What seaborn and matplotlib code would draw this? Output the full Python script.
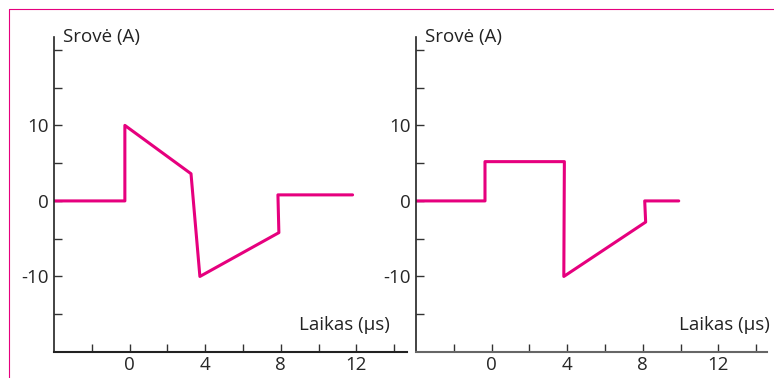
import pandas as pd
import matplotlib.pyplot as plt
import seaborn as sns
from matplotlib.lines import Line2D

# left panel: time (us) and current (A)
left_t = [-4, -0.25, -0.25, 3.25, 3.72, 7.9, 7.85, 11.8]
left_i = [0, 0, 10, 3.6, -10, -4.2, 0.8, 0.8]

# right panel
right_t = [-4, -0.35, -0.35, 3.85, 3.82, 8.15, 8.1, 9.9]
right_i = [0, 0, 5.2, 5.2, -10, -2.8, 0, 0]

x_major = [0, 4, 8, 12]
x_minor = [-2, 2, 6, 10, 14]
y_major = [-10, 0, 10]
y_minor = [-15, -5, 5, 15, 20]

line_color = '#E6007E'

sns.set_style("ticks")
plt.rcParams['font.family'] = ['Open Sans', 'DejaVu Sans']

fig = plt.figure(figsize=(7.74, 3.78), dpi=100)
W, H = 774, 378

def make_panel(left_px, right_px, t, i, xmax, axis_color):
    ax = fig.add_axes([left_px / W, (H - 352) / H, (right_px - left_px) / W, (352 - 37) / H])
    df = pd.DataFrame({'t': t, 'i': i})
    sns.lineplot(data=df, x='t', y='i', sort=False, estimator=None,
                 color=line_color, linewidth=2.2, ax=ax)
    ax.set_xlim(-4, xmax)
    ax.set_ylim(-20, 21.7)
    ax.set_xticks(x_major)
    ax.set_xticks(x_minor, minor=True)
    ax.set_yticks(y_major)
    ax.set_yticks(y_minor, minor=True)
    ax.set_yticklabels(['-10', '0', '10'])
    ax.tick_params(which='both', direction='in', length=6, width=1, color='#333333', labelsize=13.5)
    ax.tick_params(axis='x', pad=3)
    ax.tick_params(axis='y', pad=4)
    ax.set_xlabel('')
    ax.set_ylabel('')
    ax.spines['top'].set_visible(False)
    ax.spines['right'].set_visible(False)
    ax.spines['left'].set_color('#222222')
    ax.spines['bottom'].set_color(axis_color)
    ax.spines['left'].set_linewidth(1.2)
    ax.spines['bottom'].set_linewidth(1.5)
    ax.set_facecolor('none')
    ax.text(0.025, 1.0, 'Srovė (A)', transform=ax.transAxes, ha='left', va='center',
            fontsize=13.5, color='#222222')
    return ax

ax1 = make_panel(54, 407, left_t, left_i, 14.68, '#222222')
ax2 = make_panel(416, 767, right_t, right_i, 14.57, '#666666')

ax1.text(0.952, 0.086, 'Laikas (μs)', transform=ax1.transAxes, ha='right', va='center',
         fontsize=13.5, color='#222222')
ax2.text(1.008, 0.086, 'Laikas (μs)', transform=ax2.transAxes, ha='right', va='center',
         fontsize=13.5, color='#222222')

# pink frame on top and left edges
fig.add_artist(Line2D([9 / W, 9 / W], [0, 1 - 9 / H], color=line_color, linewidth=0.8))
fig.add_artist(Line2D([9 / W, 1], [1 - 9 / H, 1 - 9 / H], color=line_color, linewidth=0.8))

fig.savefig('out.png', dpi=100)
